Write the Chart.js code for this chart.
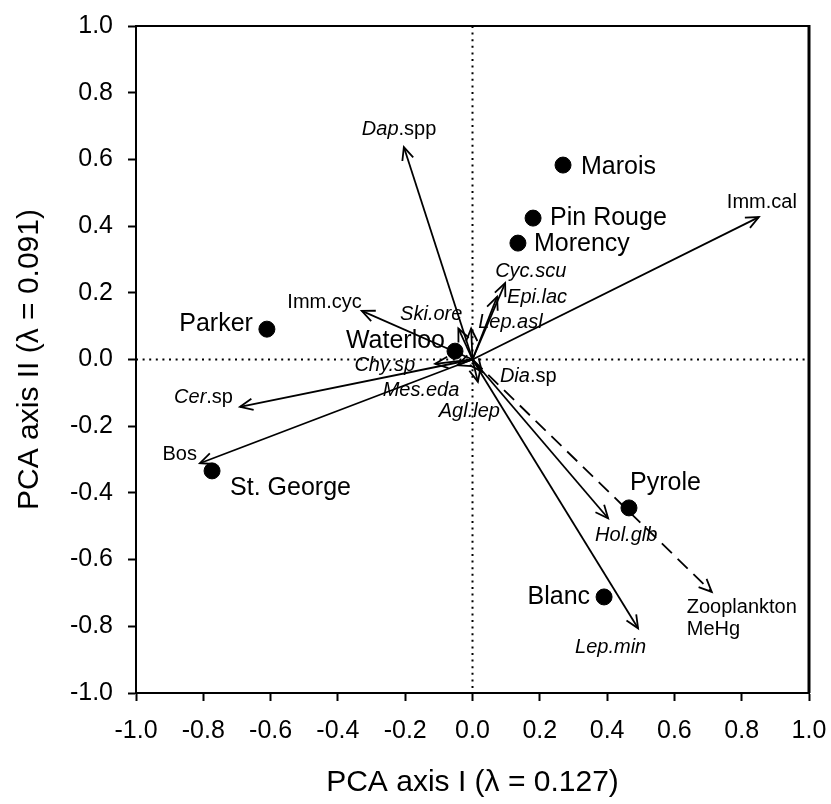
<!DOCTYPE html>
<html>
<head>
<meta charset="utf-8">
<script src="https://cdn.jsdelivr.net/npm/chart.js@4/dist/chart.umd.min.js"></script>
<style>
  html, body { margin: 0; padding: 0; background: #fff; }
  canvas { display: block; }
</style>
</head>
<body>
<canvas id="pca" width="831" height="804"></canvas>
<script>
// Lake sites: scores on PCA axes I and II
const siteNames = ["Marois", "Pin Rouge", "Morency", "Parker", "Waterloo", "St. George", "Pyrole", "Blanc"];
const siteAxis1 = [0.269, 0.180, 0.135, -0.611, -0.052, -0.774, 0.465, 0.391];
const siteAxis2 = [0.583, 0.424, 0.349, 0.091, 0.025, -0.334, -0.445, -0.712];

// Taxa and zooplankton MeHg: loadings drawn as vectors from the origin
const speciesNames = ["Imm.cal", "Dap.spp", "Imm.cyc", "Cer.sp", "Bos", "Hol.glb", "Lep.min",
  "Zooplankton\nMeHg", "Cyc.scu", "Epi.lac", "Lep.asl", "Ski.ore", "Chy.sp", "Mes.eda", "Dia.sp", "Agl.lep"];
const speciesAxis1 = [0.851, -0.204, -0.329, -0.691, -0.810, 0.403, 0.492, 0.711, 0.097, 0.073,
  -0.004, -0.042, -0.111, -0.045, 0.028, 0.016];
const speciesAxis2 = [0.427, 0.637, 0.146, -0.142, -0.311, -0.476, -0.806, -0.697, 0.229, 0.188,
  0.093, 0.093, -0.013, -0.017, -0.037, -0.067];

const tickValues = [-1.0, -0.8, -0.6, -0.4, -0.2, 0.0, 0.2, 0.4, 0.6, 0.8, 1.0];

// Label placement (pixel offsets from the arrow tip / site point) and type style
const vectorLabels = {
  "Imm.cal": { dx: -32, dy: -15, align: "left", style: "n" },
  "Dap.spp": { dx: -42, dy: -18, align: "left", style: "g" },
  "Imm.cyc": { dx: 0, dy: -8, align: "right", style: "n" },
  "Cer.sp": { dx: -7, dy: -9, align: "right", style: "g" },
  "Bos": { dx: -3, dy: -9, align: "right", style: "n" },
  "Hol.glb": { dx: -13, dy: 17, align: "left", style: "i" },
  "Lep.min": { dx: -63, dy: 19, align: "left", style: "i" },
  "Zooplankton\nMeHg": { dx: -25, dy: 16, align: "left", style: "n", dashed: true },
  "Cyc.scu": { dx: -10, dy: -12, align: "left", style: "i" },
  "Epi.lac": { dx: 10, dy: 1, align: "left", style: "i" },
  "Lep.asl": { dx: 7, dy: -6, align: "left", style: "i" },
  "Ski.ore": { dx: 4, dy: -14, align: "right", style: "i" },
  "Chy.sp": { dx: -20, dy: 2, align: "right", style: "i" },
  "Mes.eda": { dx: 2, dy: 25, align: "right", style: "i" },
  "Dia.sp": { dx: 18, dy: 5, align: "left", style: "g" },
  "Agl.lep": { dx: 22, dy: 30, align: "right", style: "i" }
};
const siteLabels = {
  "Marois": { dx: 18, dy: 2, align: "left" },
  "Pin Rouge": { dx: 17, dy: 0, align: "left" },
  "Morency": { dx: 16, dy: 1, align: "left" },
  "Parker": { dx: -14, dy: -5, align: "right" },
  "Waterloo": { dx: -10, dy: -10, align: "right" },
  "St. George": { dx: 18, dy: 17, align: "left" },
  "Pyrole": { dx: 1, dy: -25, align: "left" },
  "Blanc": { dx: -14, dy: 0, align: "right" }
};

const FAMILY = "'Liberation Sans', Arial, Helvetica, sans-serif";
Chart.defaults.font.family = FAMILY;
Chart.defaults.color = "#000";

// Split a taxon label into italic / upright runs
function runsFor(text, style) {
  if (style === "n") return [{ t: text, it: false }];
  if (style === "i") return [{ t: text, it: true }];
  const k = text.indexOf(".");
  return [{ t: text.slice(0, k), it: true }, { t: text.slice(k), it: false }];
}

function drawRuns(ctx, runs, x, y, align, size) {
  const fontOf = r => (r.it ? "italic " : "") + size + "px " + FAMILY;
  let total = 0;
  runs.forEach(r => { ctx.font = fontOf(r); r.w = ctx.measureText(r.t).width; total += r.w; });
  let cx = align === "right" ? x - total : (align === "center" ? x - total / 2 : x);
  ctx.textAlign = "left";
  ctx.textBaseline = "middle";
  runs.forEach(r => { ctx.font = fontOf(r); ctx.fillText(r.t, cx, y); cx += r.w; });
}

const biplot = {
  id: "biplot",
  beforeDatasetsDraw(chart) {
    const { ctx, chartArea: a, scales: { x, y } } = chart;
    const x0 = x.getPixelForValue(0), y0 = y.getPixelForValue(0);
    ctx.save();
    ctx.strokeStyle = "#000";
    ctx.fillStyle = "#000";

    // dotted reference lines through the origin
    ctx.lineWidth = 2;
    ctx.setLineDash([2, 4.6]);
    ctx.beginPath();
    ctx.moveTo(x0, a.top); ctx.lineTo(x0, a.bottom);
    ctx.moveTo(a.left, y0); ctx.lineTo(a.right, y0);
    ctx.stroke();
    ctx.setLineDash([]);

    // top and right frame
    ctx.lineWidth = 2;
    ctx.beginPath();
    ctx.moveTo(a.left, a.top); ctx.lineTo(a.right, a.top);
    ctx.stroke();
    ctx.lineWidth = 3;
    ctx.beginPath();
    ctx.moveTo(a.right, a.top - 1); ctx.lineTo(a.right, a.bottom);
    ctx.stroke();

    // loading vectors
    speciesNames.forEach((name, i) => {
      const lay = vectorLabels[name];
      const tx = x.getPixelForValue(speciesAxis1[i]);
      const ty = y.getPixelForValue(speciesAxis2[i]);
      ctx.lineWidth = 1.8;
      ctx.setLineDash(lay.dashed ? [14, 8] : []);
      ctx.beginPath();
      ctx.moveTo(x0, y0); ctx.lineTo(tx, ty);
      ctx.stroke();
      ctx.setLineDash([]);
      const ang = Math.atan2(ty - y0, tx - x0);
      const L = 14, spread = 0.42;
      ctx.beginPath();
      ctx.moveTo(tx + L * Math.cos(ang + Math.PI - spread), ty + L * Math.sin(ang + Math.PI - spread));
      ctx.lineTo(tx, ty);
      ctx.lineTo(tx + L * Math.cos(ang + Math.PI + spread), ty + L * Math.sin(ang + Math.PI + spread));
      ctx.stroke();

      name.split("\n").forEach((line, j) => {
        drawRuns(ctx, runsFor(line, lay.style), tx + lay.dx, ty + lay.dy + j * 22, lay.align, 20);
      });
    });
    ctx.restore();
  },
  afterDatasetsDraw(chart) {
    const { ctx, scales: { x, y } } = chart;
    ctx.save();
    ctx.fillStyle = "#000";
    siteNames.forEach((name, i) => {
      const lay = siteLabels[name];
      const px = x.getPixelForValue(siteAxis1[i]);
      const py = y.getPixelForValue(siteAxis2[i]);
      drawRuns(ctx, [{ t: name, it: false }], px + lay.dx, py + lay.dy, lay.align, 25);
    });
    ctx.restore();
  }
};

function noEdgePadding(s) {
  s.paddingLeft = 0; s.paddingRight = 0; s.paddingTop = 0; s.paddingBottom = 0;
}

const axisCommon = {
  type: "linear",
  min: -1,
  max: 1,
  afterBuildTicks: s => { s.ticks = tickValues.map(v => ({ value: v })); },
  ticks: {
    callback: v => Number(v).toFixed(1),
    font: { size: 25 },
    color: "#000",
    padding: 15,
    autoSkip: false,
    maxRotation: 0
  },
  grid: {
    display: true,
    drawOnChartArea: false,
    drawTicks: true,
    tickLength: 8,
    tickWidth: 2,
    tickColor: "#000"
  },
  border: { display: true, color: "#000", width: 2 }
};

new Chart(document.getElementById("pca"), {
  type: "scatter",
  data: {
    datasets: [{
      label: "Sites",
      data: siteNames.map((n, i) => ({ x: siteAxis1[i], y: siteAxis2[i] })),
      backgroundColor: "#000",
      borderColor: "#000",
      pointRadius: 8,
      pointHoverRadius: 8
    }]
  },
  options: {
    responsive: false,
    devicePixelRatio: 1,
    animation: false,
    layout: { padding: { top: 26, right: 22, left: 0, bottom: 0 } },
    plugins: { legend: { display: false }, tooltip: { enabled: false } },
    events: [],
    scales: {
      x: Object.assign({}, axisCommon, {
        position: "bottom",
        afterFit: s => { s.height = 111; noEdgePadding(s); },
        title: { display: true, text: "PCA axis I (λ = 0.127)", font: { size: 30 }, color: "#000", padding: { top: 0, bottom: 3 } }
      }),
      y: Object.assign({}, axisCommon, {
        position: "left",
        afterFit: s => { s.width = 136; noEdgePadding(s); },
        title: { display: true, text: "PCA axis II (λ = 0.091)", font: { size: 30 }, color: "#000", padding: { top: 12, bottom: 0 } }
      })
    }
  },
  plugins: [biplot]
});
</script>
</body>
</html>
